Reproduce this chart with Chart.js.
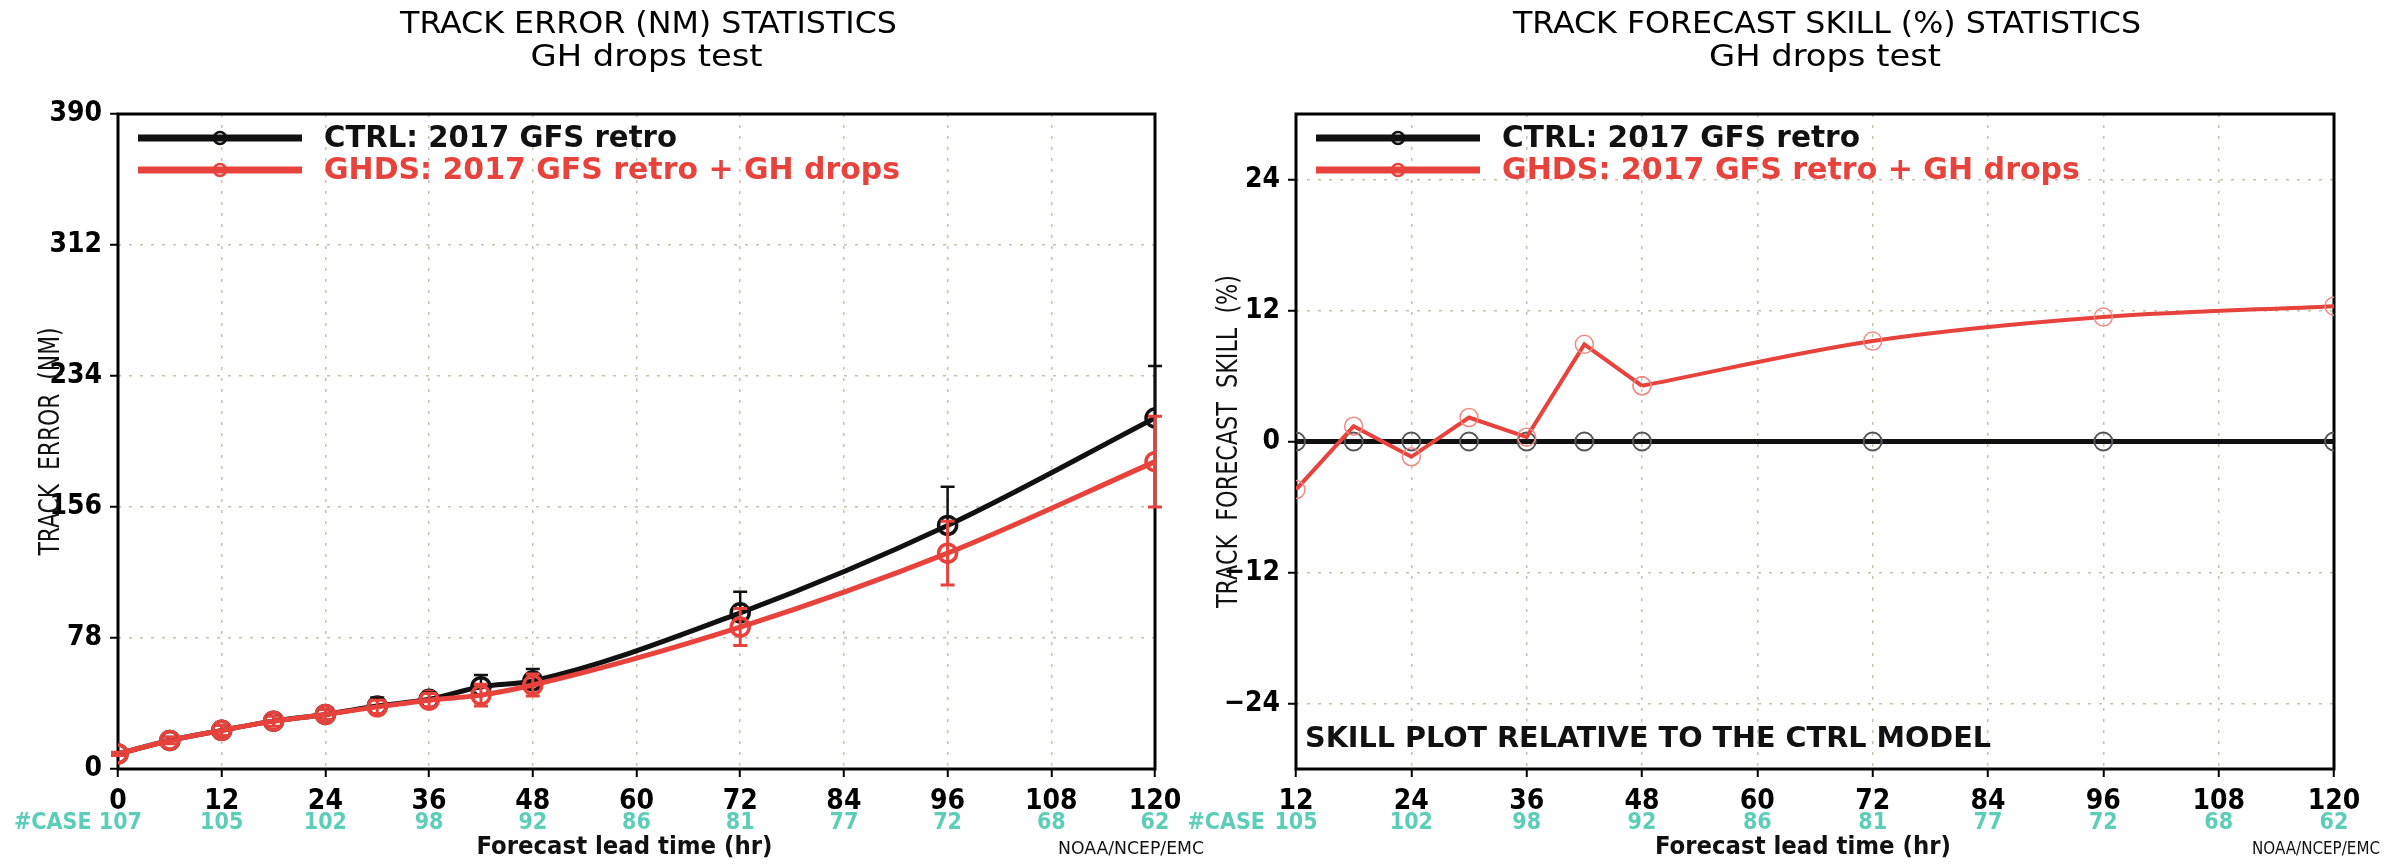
<!DOCTYPE html>
<html>
<head>
<meta charset="utf-8">
<script src="https://cdn.jsdelivr.net/npm/chart.js@4.4.1/dist/chart.umd.min.js"></script>
<style>
  html, body { margin: 0; padding: 0; background: #fff; }
  body { width: 2407px; height: 868px; position: relative; overflow: hidden; }
  canvas { position: absolute; top: 0; }
  #errCanvas { left: 0; }
  #skillCanvas { left: 1180px; }
</style>
</head>
<body>
<canvas id="errCanvas" width="1205" height="868"></canvas>
<canvas id="skillCanvas" width="1227" height="868"></canvas>
<script>
// track error (NM) - left panel
const leadHours = [0, 6, 12, 18, 24, 30, 36, 42, 48, 72, 96, 120];
const ctrlError = [9, 17, 23, 28.5, 32.5, 37.5, 41.5, 49, 52.5, 93, 145, 209];
const ghdsError = [9, 17, 23, 28.5, 32.5, 37, 41, 44, 50, 84.5, 128.5, 183];
const ctrlErrBar = [1, 2, 3, 3, 3, 5, 4, 7, 7, 12.5, 23, 31];
const ghdsErrBar = [1, 2, 3, 3, 3, 4, 4, 6.5, 6.5, 11, 19, 27];
const errCaseHours = [0, 12, 24, 36, 48, 60, 72, 84, 96, 108, 120];
const errCases = [107, 105, 102, 98, 92, 86, 81, 77, 72, 68, 62];

// track forecast skill (%) - right panel
const skillHours = [12, 18, 24, 30, 36, 42, 48, 72, 96, 120];
const ctrlSkill = [0, 0, 0, 0, 0, 0, 0, 0, 0, 0];
const ghdsSkill = [-4.4, 1.4, -1.4, 2.2, 0.4, 8.9, 5.1, 9.2, 11.4, 12.4];
const skillCaseHours = [12, 24, 36, 48, 60, 72, 84, 96, 108, 120];
const skillCases = [105, 102, 98, 92, 86, 81, 77, 72, 68, 62];
const skillTicks = [-24, -12, 0, 12, 24];

const ctrlName = 'CTRL: 2017 GFS retro';
const ghdsName = 'GHDS: 2017 GFS retro + GH drops';

// GrADS text is narrow; use Liberation Sans Narrow when the box has it
function hasFont(name) {
  const c = document.createElement('canvas').getContext('2d');
  const probe = '0123456789 abcdefgh';
  c.font = '40px monospace';
  const a = c.measureText(probe).width;
  c.font = `40px '${name}', monospace`;
  return c.measureText(probe).width !== a;
}
const HAS_NARROW = hasFont('Liberation Sans Narrow');
const NARROW = HAS_NARROW
  ? "'Liberation Sans Narrow', 'DejaVu Sans Condensed', sans-serif"
  : "'DejaVu Sans Condensed', 'DejaVu Sans', sans-serif";
const TICK_SIZE = HAS_NARROW ? 32 : 28;

const RED = '#e8423c';
const BLACK = '#111';
const TEAL = '#5ccdb7';
const GRID = '#c9c1a6';

function pts(xs, ys) {
  return xs.map((x, i) => ({ x, y: ys[i] }));
}

// draw text squeezed / stretched to a given width
function fitText(ctx, s, x, y, font, color, width, align) {
  ctx.save();
  ctx.font = font;
  ctx.fillStyle = color;
  ctx.textBaseline = 'middle';
  ctx.textAlign = 'left';
  const w = ctx.measureText(s).width;
  const k = width ? width / w : 1;
  let x0 = x;
  if (align === 'center') x0 = x - (w * k) / 2;
  if (align === 'right') x0 = x - w * k;
  ctx.translate(x0, y);
  ctx.scale(k, 1);
  ctx.fillText(s, 0, 0);
  ctx.restore();
}

const gradsDecor = {
  id: 'gradsDecor',
  beforeDatasetsDraw(chart) {
    const { ctx, chartArea: a } = chart;
    ctx.save();
    ctx.strokeStyle = '#000';
    ctx.lineWidth = 3;
    ctx.strokeRect(a.left, a.top, a.right - a.left, a.bottom - a.top);
    ctx.restore();
  },
  afterDatasetsDraw(chart, args, o) {
    const { ctx, scales: { x, y } } = chart;
    (o.bars || []).forEach((b) => {
      ctx.save();
      ctx.strokeStyle = b.color;
      ctx.lineWidth = b.width;
      b.hours.forEach((h, i) => {
        const px = x.getPixelForValue(h);
        const hi = y.getPixelForValue(b.mean[i] + b.err[i]);
        const lo = y.getPixelForValue(b.upOnly ? b.mean[i] : b.mean[i] - b.err[i]);
        ctx.beginPath();
        ctx.moveTo(px, lo); ctx.lineTo(px, hi);
        ctx.moveTo(px - 7, hi); ctx.lineTo(px + 7, hi);
        if (!b.upOnly) { ctx.moveTo(px - 7, lo); ctx.lineTo(px + 7, lo); }
        ctx.stroke();
      });
      ctx.restore();
    });
  },
  afterDraw(chart, args, o) {
    const { ctx, chartArea: a, scales: { x } } = chart;
    const mid = (a.left + a.right) / 2;

    fitText(ctx, o.title, mid + 12, 25, `31px ${NARROW}`, '#000', o.titleWidth, 'center');
    fitText(ctx, 'GH drops test', mid + 10, 58, `31px ${NARROW}`, '#000', 232, 'center');

    // y title
    ctx.save();
    ctx.translate(a.left - 67, (a.top + a.bottom) / 2);
    ctx.rotate(-Math.PI / 2);
    fitText(ctx, o.yTitle, 0, 0, `29px ${NARROW}`, '#111', o.yTitleWidth, 'center');
    ctx.restore();

    // legend
    o.legend.forEach((item, i) => {
      const ly = a.top + 24 + i * 32;
      ctx.save();
      ctx.strokeStyle = item.color;
      ctx.lineWidth = 7;
      ctx.beginPath();
      ctx.moveTo(a.left + 20, ly); ctx.lineTo(a.left + 184, ly);
      ctx.stroke();
      ctx.lineWidth = 2.5;
      ctx.beginPath();
      ctx.arc(a.left + 102, ly, 6, 0, Math.PI * 2);
      ctx.stroke();
      ctx.restore();
      fitText(ctx, item.label, a.left + 206, ly + 1, `bold 31px ${NARROW}`, item.color, item.width, 'left');
    });

    // case counts
    ctx.save();
    ctx.font = `bold ${TICK_SIZE - 5}px ${NARROW}`;
    ctx.fillStyle = TEAL;
    ctx.textBaseline = 'middle';
    o.caseHours.forEach((h, i) => {
      let px = x.getPixelForValue(h);
      let label = String(o.cases[i]);
      if (i === 0) {
        if (o.caseLeft) { ctx.textAlign = 'left'; px = 14; label = '#CASE ' + label; }
        else {
          ctx.textAlign = 'center';
          ctx.fillText(label, px, 823);
          ctx.textAlign = 'right';
          label = '#CASE';
          px -= 31;
        }
      } else {
        ctx.textAlign = 'center';
      }
      ctx.fillText(label, px, 823);
    });
    ctx.restore();

    fitText(ctx, 'Forecast lead time (hr)', mid - 12, 847, `bold 25px ${NARROW}`, '#111', 296, 'center');
    fitText(ctx, 'NOAA/NCEP/EMC', o.creditX, 849, `18px ${NARROW}`, '#111', o.creditWidth, 'left');

    if (o.note) {
      fitText(ctx, o.note, a.left + 9, 740, `bold 28px ${NARROW}`, '#111', 686, 'left');
    }
  },
};

const tickFont = { family: NARROW, size: TICK_SIZE, weight: 'bold' };
const gridOpts = { color: GRID, lineWidth: 1.5, tickColor: '#000', tickWidth: 2, tickLength: 8, tickBorderDash: [], borderDash: [3, 8] };

function axisX(min) {
  return {
    type: 'linear',
    min,
    max: 120,
    afterFit: (s) => { s.height = 99; },
    ticks: { stepSize: 12, color: '#000', padding: 8, font: tickFont },
    grid: gridOpts,
    border: { display: false, dash: [3, 8] },
  };
}

function axisY(min, max, extra) {
  return Object.assign({
    type: 'linear',
    min,
    max,
    afterFit: (s) => { s.width = 116; },
    grid: gridOpts,
    border: { display: false, dash: [3, 8] },
  }, extra);
}

Chart.defaults.animation = false;
Chart.defaults.font.family = NARROW;

new Chart(document.getElementById('errCanvas'), {
  type: 'line',
  data: {
    datasets: [
      {
        label: ghdsName, data: pts(leadHours, ghdsError), order: 0,
        borderColor: RED, borderWidth: 5, cubicInterpolationMode: 'monotone',
        pointRadius: 9, pointBorderWidth: 3.5, pointBorderColor: RED, pointBackgroundColor: 'rgba(0,0,0,0)',
      },
      {
        label: ctrlName, data: pts(leadHours, ctrlError), order: 1,
        borderColor: BLACK, borderWidth: 5, cubicInterpolationMode: 'monotone',
        pointRadius: 9, pointBorderWidth: 3.5, pointBorderColor: BLACK, pointBackgroundColor: 'rgba(0,0,0,0)',
      },
    ],
  },
  options: {
    responsive: false,
    layout: { padding: { top: 114, right: 50, left: 2, bottom: 0 } },
    scales: {
      x: axisX(0),
      y: axisY(0, 390, { ticks: { stepSize: 78, color: '#000', padding: 8, font: tickFont } }),
    },
    plugins: {
      legend: { display: false },
      tooltip: { enabled: false },
      gradsDecor: {
        title: 'TRACK ERROR (NM) STATISTICS', titleWidth: 497,
        yTitle: 'TRACK  ERROR  (NM)', yTitleWidth: 228,
        legend: [
          { label: ctrlName, color: BLACK, width: 353 },
          { label: ghdsName, color: RED, width: 576 },
        ],
        caseHours: errCaseHours, cases: errCases, caseLeft: true,
        creditX: 1058, creditWidth: 146,
        bars: [
          { hours: leadHours, mean: ctrlError, err: ctrlErrBar, color: BLACK, width: 2.5, upOnly: true },
          { hours: leadHours, mean: ghdsError, err: ghdsErrBar, color: RED, width: 3, upOnly: false },
        ],
      },
    },
  },
  plugins: [gradsDecor],
});

new Chart(document.getElementById('skillCanvas'), {
  type: 'line',
  data: {
    datasets: [
      {
        label: ghdsName, data: pts(skillHours.slice(0, 7), ghdsSkill.slice(0, 7)), order: 0,
        borderColor: RED, borderWidth: 4, tension: 0,
        pointRadius: 9, pointBorderWidth: 1.5, pointBorderColor: '#f08a82', pointBackgroundColor: 'rgba(0,0,0,0)',
      },
      {
        label: ghdsName, data: pts(skillHours.slice(6), ghdsSkill.slice(6)), order: 0,
        borderColor: RED, borderWidth: 4, cubicInterpolationMode: 'monotone',
        pointRadius: 9, pointBorderWidth: 1.5, pointBorderColor: '#f08a82', pointBackgroundColor: 'rgba(0,0,0,0)',
      },
      {
        label: ctrlName, data: pts(skillHours, ctrlSkill), order: 1,
        borderColor: BLACK, borderWidth: 5,
        pointRadius: 9, pointBorderWidth: 2, pointBorderColor: '#555', pointBackgroundColor: 'rgba(0,0,0,0)',
      },
    ],
  },
  options: {
    responsive: false,
    layout: { padding: { top: 114, right: 73, left: 0, bottom: 0 } },
    scales: {
      x: axisX(12),
      y: axisY(-30, 30, {
        afterBuildTicks: (s) => { s.ticks = skillTicks.map((v) => ({ value: v })); },
        ticks: {
          color: '#000', padding: 8, font: tickFont,
          callback: (v) => String(v).replace('-', '\u2212'),
        },
      }),
    },
    plugins: {
      legend: { display: false },
      tooltip: { enabled: false },
      gradsDecor: {
        title: 'TRACK FORECAST SKILL (%) STATISTICS', titleWidth: 628,
        yTitle: 'TRACK  FORECAST  SKILL  (%)', yTitleWidth: 333,
        legend: [
          { label: ctrlName, color: BLACK, width: 358 },
          { label: ghdsName, color: RED, width: 578 },
        ],
        caseHours: skillCaseHours, cases: skillCases, caseLeft: false,
        creditX: 1072, creditWidth: 128,
        note: 'SKILL PLOT RELATIVE TO THE CTRL MODEL',
      },
    },
  },
  plugins: [gradsDecor],
});
</script>
</body>
</html>
